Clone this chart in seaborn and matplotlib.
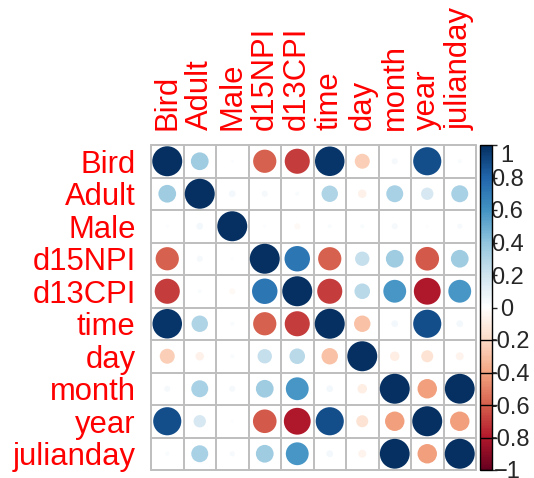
import numpy as np
import pandas as pd
import seaborn as sns
import matplotlib
matplotlib.use("Agg")
import matplotlib.pyplot as plt
from matplotlib.colors import LinearSegmentedColormap, Normalize
from matplotlib.cm import ScalarMappable

variables = ["Bird", "Adult", "Male", "d15NPI", "d13CPI", "time",
             "day", "month", "year", "julianday"]

# correlation matrix, one row per variable
r_bird      = [1.00, 0.35, 0.01, -0.60, -0.70, 0.97, -0.25, 0.04, 0.88, 0.02]
r_adult     = [0.35, 1.00, 0.05, 0.04, 0.02, 0.30, -0.08, 0.32, 0.17, 0.32]
r_male      = [0.01, 0.05, 1.00, 0.01, -0.04, 0.02, 0.02, 0.04, 0.01, 0.03]
r_d15npi    = [-0.60, 0.04, 0.01, 1.00, 0.72, -0.60, 0.23, 0.35, -0.62, 0.35]
r_d13cpi    = [-0.70, 0.02, -0.04, 0.72, 1.00, -0.70, 0.27, 0.58, -0.80, 0.58]
r_time      = [0.97, 0.30, 0.02, -0.60, -0.70, 1.00, -0.30, 0.05, 0.88, 0.05]
r_day       = [-0.25, -0.08, 0.02, 0.23, 0.27, -0.30, 1.00, -0.10, -0.16, -0.07]
r_month     = [0.04, 0.32, 0.04, 0.35, 0.58, 0.05, -0.10, 1.00, -0.42, 0.99]
r_year      = [0.88, 0.17, 0.01, -0.62, -0.80, 0.88, -0.16, -0.42, 1.00, -0.42]
r_julianday = [0.02, 0.32, 0.03, 0.35, 0.58, 0.05, -0.07, 0.99, -0.42, 1.00]

corr = np.array([r_bird, r_adult, r_male, r_d15npi, r_d13cpi, r_time,
                 r_day, r_month, r_year, r_julianday])

cbar_ticks = [-1, -0.8, -0.6, -0.4, -0.2, 0, 0.2, 0.4, 0.6, 0.8, 1]
cbar_labels = ["\u22121", "\u22120.8", "\u22120.6", "\u22120.4", "\u22120.2",
               "0", "0.2", "0.4", "0.6", "0.8", "1"]

sns.set_style("white")
plt.rcParams["font.family"] = ["Liberation Sans", "DejaVu Sans"]

cmap = LinearSegmentedColormap.from_list(
    "rdbu_corr",
    ["#67001F", "#B2182B", "#D6604D", "#F4A582", "#FDDBC7", "#FFFFFF",
     "#D1E5F0", "#92C5DE", "#4393C3", "#2166AC", "#053061"], N=200)

n = len(variables)
rows, cols = np.meshgrid(np.arange(n), np.arange(n), indexing="ij")
df = pd.DataFrame({
    "col": cols.ravel(),
    "row": rows.ravel(),
    "r": corr.ravel(),
})
df["absr"] = df["r"].abs()

W, H = 534, 478
fig = plt.figure(figsize=(W / 100, H / 100), dpi=100)
gx0, gy0, gsz = 151, 145, 325
ax = fig.add_axes([gx0 / W, 1 - (gy0 + gsz) / H, gsz / W, gsz / H])

sns.scatterplot(data=df, x="col", y="row", hue="r", size="absr",
                palette=cmap, hue_norm=(-1, 1),
                sizes=(0, 466), size_norm=(0, 1),
                linewidth=0, legend=False, ax=ax, zorder=3)

ax.set_xlim(-0.5, n - 0.5)
ax.set_ylim(n - 0.5, -0.5)
ax.set_xlabel("")
ax.set_ylabel("")

# cell grid
for k in np.arange(-0.5, n, 1.0):
    ax.axhline(k, color="#BEBEBE", lw=1.4, zorder=1, clip_on=False)
    ax.axvline(k, color="#BEBEBE", lw=1.4, zorder=1, clip_on=False)
for s in ax.spines.values():
    s.set_visible(False)

ax.xaxis.tick_top()
ax.set_xticks(range(n))
ax.set_xticklabels(variables, rotation=90, color="red", fontsize=22.3)
ax.set_yticks(range(n))
ax.set_yticklabels(variables, color="red", fontsize=22.3)
ax.tick_params(axis="x", length=0, pad=11)
ax.tick_params(axis="y", length=0, pad=11)

# colour legend
cx0, cw = 480, 12
cax = fig.add_axes([cx0 / W, 1 - (gy0 + gsz) / H, cw / W, gsz / H])
cb = fig.colorbar(ScalarMappable(norm=Normalize(-1, 1), cmap=cmap), cax=cax)
cb.outline.set_edgecolor("black")
cb.outline.set_linewidth(1.0)
cb.set_ticks(cbar_ticks)
cb.set_ticklabels(cbar_labels)
cax.tick_params(axis="y", direction="out", length=3.6, width=1.0,
                pad=7.2, labelsize=17)
for t in cbar_ticks:
    if t < 0:
        cax.axhline(t, color="black", lw=1.0)
for lab in cax.get_yticklabels():
    lab.set_horizontalalignment("center")
    if lab.get_text() == "1":
        lab.set_verticalalignment("top")

fig.savefig("out.png", dpi=100)
